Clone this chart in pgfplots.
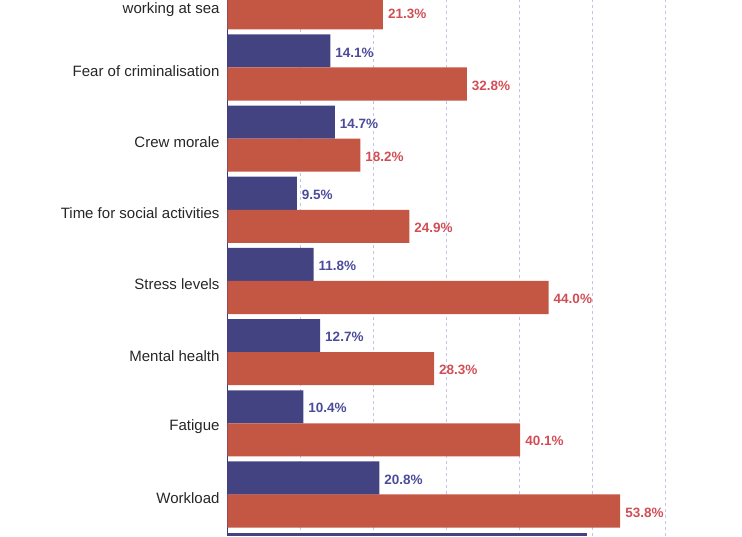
\documentclass[border=0pt]{standalone}
\usepackage{fontspec}
\setmainfont{Liberation Sans}
\usepackage{pgfplots}
\pgfplotsset{compat=1.18}
\definecolor{barblue}{HTML}{444382}
\definecolor{barred}{HTML}{C45644}
\definecolor{lblblue}{HTML}{4B4B9B}
\definecolor{lblred}{HTML}{D24E55}
\definecolor{gridc}{HTML}{C4C4E4}
\definecolor{axisc}{HTML}{3A3A80}
\begin{document}
\begin{tikzpicture}
\clip (-227.5pt,0pt) rectangle (514.5pt,536pt);
\begin{axis}[
  at={(0pt,0pt)}, anchor=south west,
  scale only axis, width=511pt, height=582.4pt,
  xmin=0, xmax=70, ymin=-0.583, ymax=7.6,
  xbar, bar width=0.465,
  axis lines*=left,
  x axis line style={draw=none},
  y axis line style={draw=axisc, line width=1.5pt},
  xtick={10,20,...,60}, xticklabels={},
  xmajorgrids,
  grid style={gridc, dash pattern=on 3pt off 3pt, line width=0.8pt},
  ytick={0,1,2,3,4,5,6,6.86},
  yticklabels={Workload, Fatigue, Mental health, Stress levels, Time for social activities, Crew morale, Fear of criminalisation, working at sea},
  major tick length=0pt,
  yticklabel style={font=\fontsize{15}{17}\selectfont, text=black!85, xshift=-4.5pt, yshift=-3.5pt},
  /pgf/number format/assume math mode=true,
  nodes near coords={\pgfmathprintnumber[fixed,fixed zerofill,precision=1,assume math mode=true]{\pgfplotspointmeta}\%},
  nodes near coords align={horizontal},
]
\addplot[draw=none, fill=barblue, bar shift=0.232,
  every node near coord/.append style={font=\bfseries\fontsize{13.5}{15}\selectfont, text=lblblue, anchor=west, xshift=1.5pt, yshift=-1.5pt}]
  coordinates {(20.8,0) (10.4,1) (12.7,2) (11.8,3) (9.5,4) (14.7,5) (14.1,6)};
\addplot[draw=none, fill=barred, bar shift=-0.232,
  every node near coord/.append style={font=\bfseries\fontsize{13.5}{15}\selectfont, text=lblred, anchor=west, xshift=1.5pt, yshift=-1.5pt}]
  coordinates {(53.8,0) (40.1,1) (28.3,2) (44.0,3) (24.9,4) (18.2,5) (32.8,6) (21.3,7)};
\addplot[draw=none, fill=barblue, bar shift=0.232, nodes near coords={}]
  coordinates {(49.2,-1)};
\end{axis}
\end{tikzpicture}
\end{document}
